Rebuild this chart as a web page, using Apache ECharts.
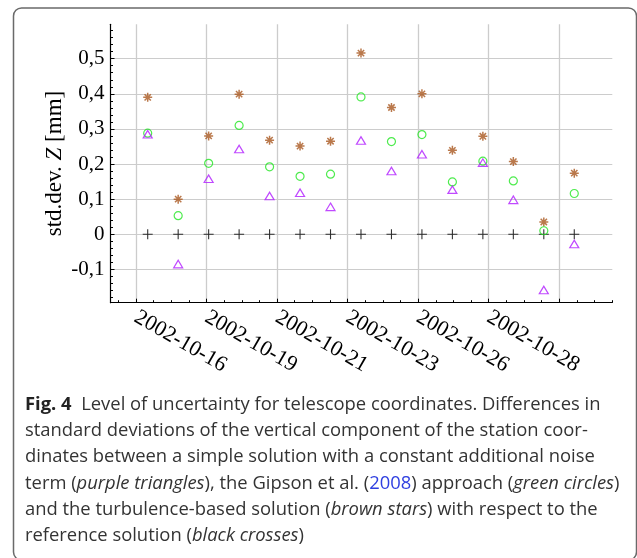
<!DOCTYPE html>
<html>
<head>
<meta charset="utf-8">
<script src="https://cdn.jsdelivr.net/npm/echarts@6/dist/echarts.min.js"></script>
<style>
html,body{margin:0;padding:0;background:#fff;}
#chart{width:637px;height:558px;}
</style>
</head>
<body>
<div id="chart"></div>
<script>
// ---- data ----
var sessions = ['2002-10-16','2002-10-17','2002-10-18','2002-10-19','2002-10-20','2002-10-21','2002-10-22','2002-10-23','2002-10-24','2002-10-25','2002-10-26','2002-10-27','2002-10-28','2002-10-29','2002-10-30'];
var reference = [0,0,0,0,0,0,0,0,0,0,0,0,0,0,0];
var turbulence = [0.390,0.100,0.280,0.399,0.268,0.251,0.265,0.516,0.361,0.400,0.239,0.279,0.207,0.035,0.174];
var gipson = [0.288,0.053,0.202,0.310,0.192,0.165,0.171,0.391,0.264,0.284,0.149,0.208,0.152,0.010,0.116];
var constNoise = [0.285,-0.085,0.158,0.243,0.109,0.118,0.078,0.267,0.180,0.228,0.127,0.204,0.098,-0.159,-0.028];
var xTickLabels = ['2002-10-16','2002-10-19','2002-10-21','2002-10-23','2002-10-26','2002-10-28'];
var yTickValues = [-0.1,0,0.1,0.2,0.3,0.4,0.5];

// ---- axis scale settings (in session-day units) ----
var xMin = -1.221, xMax = 15.248;
var xTickStart = -0.384, xTickStep = 2.3154;
var yMin = -0.195, yMax = 0.598;

var xMajor = [], xMinor = [];
for (var k = 0; k < 7; k++) xMajor.push(xTickStart + k * xTickStep);
for (var k = -1; k <= 27; k++) {
  var v = xTickStart + k * xTickStep / 4;
  if (v >= xMin - 1e-9 && v <= xMax + 1e-6) xMinor.push(Math.min(v, xMax));
}
var yMinor = [];
for (var k = -9; k <= 29; k++) yMinor.push(Math.round(k * 2) / 100);

function pts(arr) { return arr.map(function (v, i) { return [i, v, sessions[i]]; }); }

var SERIF = 'Liberation Serif';
var SANS = 'Open Sans';
var CAP = 18.4;
var CAPCOL = '#333333';

var capStyle = {fontFamily: SANS, fontSize: CAP, fill: CAPCOL};
var rich = {
  b: {fontFamily: SANS, fontSize: CAP, fontWeight: 'bold', fill: '#222222'},
  i: {fontFamily: SANS, fontSize: CAP, fontStyle: 'italic', fill: CAPCOL},
  l: {fontFamily: SANS, fontSize: CAP, fill: '#2f3fe0'}
};
var captionLines = [
  '{b|Fig. 4}  Level of uncertainty for telescope coordinates. Differences in',
  'standard deviations of the vertical component of the station coor-',
  'dinates between a simple solution with a constant additional noise',
  'term ({i|purple triangles}), the Gipson et al. ({l|2008}) approach ({i|green circles})',
  'and the turbulence-based solution ({i|brown stars}) with respect to the',
  'reference solution ({i|black crosses})'
];
var lineTop0 = 395.5, lineStep = 26.3;
var graphics = [{
  type: 'rect', shape: {x: 13.5, y: 8, width: 623, height: 552, r: 8},
  style: {fill: 'none', stroke: '#6a6a6a', lineWidth: 1.5}, silent: true
}];
captionLines.forEach(function (t, i) {
  graphics.push({
    type: 'text', left: 25, top: lineTop0 + i * lineStep,
    style: Object.assign({text: t, rich: rich}, capStyle)
  });
});

var starPath = 'path://M5,0L5,10M0,5L10,5M1.5,1.5L8.5,8.5M1.5,8.5L8.5,1.5';
var crossPath = 'path://M0,5L10,5M5,0L5,10';

var chart = echarts.init(document.getElementById('chart'), null, {renderer: 'canvas'});
chart.setOption({
  animation: false,
  backgroundColor: '#fff',
  grid: {left: 110.5, right: 24.7, top: 24.3, bottom: 255.3, containLabel: false},
  xAxis: [{
    type: 'value', min: xMin, max: xMax, position: 'bottom',
    axisLine: {show: true, onZero: false, lineStyle: {color: '#000', width: 1.2}},
    axisTick: {show: true, inside: true, length: 4, customValues: xMajor, lineStyle: {color: '#000', width: 1}},
    axisLabel: {
      show: true, customValues: xMajor.slice(0, 6), rotate: -30, margin: 13,
      fontFamily: SERIF, fontSize: 22, color: '#000',
      formatter: function (v) {
        var idx = Math.round((v - xTickStart) / xTickStep);
        return xTickLabels[idx] || '';
      }
    },
    splitLine: {show: true, lineStyle: {color: '#cccccc', width: 1.3}}
  }, {
    type: 'value', min: xMin, max: xMax, position: 'bottom', offset: 0,
    axisLine: {show: false, onZero: false},
    axisTick: {show: true, inside: true, length: 2.5, customValues: xMinor, lineStyle: {color: '#000', width: 1}},
    axisLabel: {show: false},
    splitLine: {show: false}
  }],
  yAxis: [{
    type: 'value', min: yMin, max: yMax, position: 'left',
    name: 'std.dev. {i|Z} [mm]', nameLocation: 'middle', nameGap: 44, nameMoveOverlap: false,
    nameTextStyle: {fontFamily: SERIF, fontSize: 23, color: '#000',
      rich: {i: {fontFamily: SERIF, fontSize: 23, fontStyle: 'italic', color: '#000'}}},
    axisLine: {show: true, onZero: false, lineStyle: {color: '#000', width: 1.2}},
    axisTick: {show: true, inside: true, length: 4, customValues: yTickValues, lineStyle: {color: '#000', width: 1}},
    axisLabel: {
      show: true, customValues: yTickValues, margin: 6,
      fontFamily: SERIF, fontSize: 21, color: '#000',
      formatter: function (v) { return Math.abs(v) < 1e-9 ? '0' : v.toFixed(1).replace('.', ','); }
    },
    splitLine: {show: true, lineStyle: {color: '#cccccc', width: 1.2}}
  }, {
    type: 'value', min: yMin, max: yMax, position: 'left', offset: 0,
    axisLine: {show: false, onZero: false},
    axisTick: {show: true, inside: true, length: 2.5, customValues: yMinor, lineStyle: {color: '#000', width: 1}},
    axisLabel: {show: false},
    splitLine: {show: false}
  }],
  series: [{
    name: 'reference solution', type: 'scatter', xAxisIndex: 0, yAxisIndex: 0,
    data: pts(reference), symbol: crossPath, symbolSize: 10,
    itemStyle: {color: 'rgba(0,0,0,0)', borderColor: '#000', borderWidth: 1.1}
  }, {
    name: 'turbulence-based', type: 'scatter', xAxisIndex: 0, yAxisIndex: 0,
    data: pts(turbulence), symbol: starPath, symbolSize: 9,
    itemStyle: {color: 'rgba(0,0,0,0)', borderColor: '#a9571f', borderWidth: 1.5}
  }, {
    name: 'Gipson et al. (2008)', type: 'scatter', xAxisIndex: 0, yAxisIndex: 0,
    data: pts(gipson), symbol: 'circle', symbolSize: 8,
    itemStyle: {color: 'rgba(0,0,0,0)', borderColor: '#22e622', borderWidth: 1.2}
  }, {
    name: 'constant noise', type: 'scatter', xAxisIndex: 0, yAxisIndex: 0,
    data: pts(constNoise), symbol: 'triangle', symbolSize: [9, 7.5],
    itemStyle: {color: 'rgba(0,0,0,0)', borderColor: '#b01cff', borderWidth: 1.2}
  }],
  graphic: graphics
});
</script>
</body>
</html>
